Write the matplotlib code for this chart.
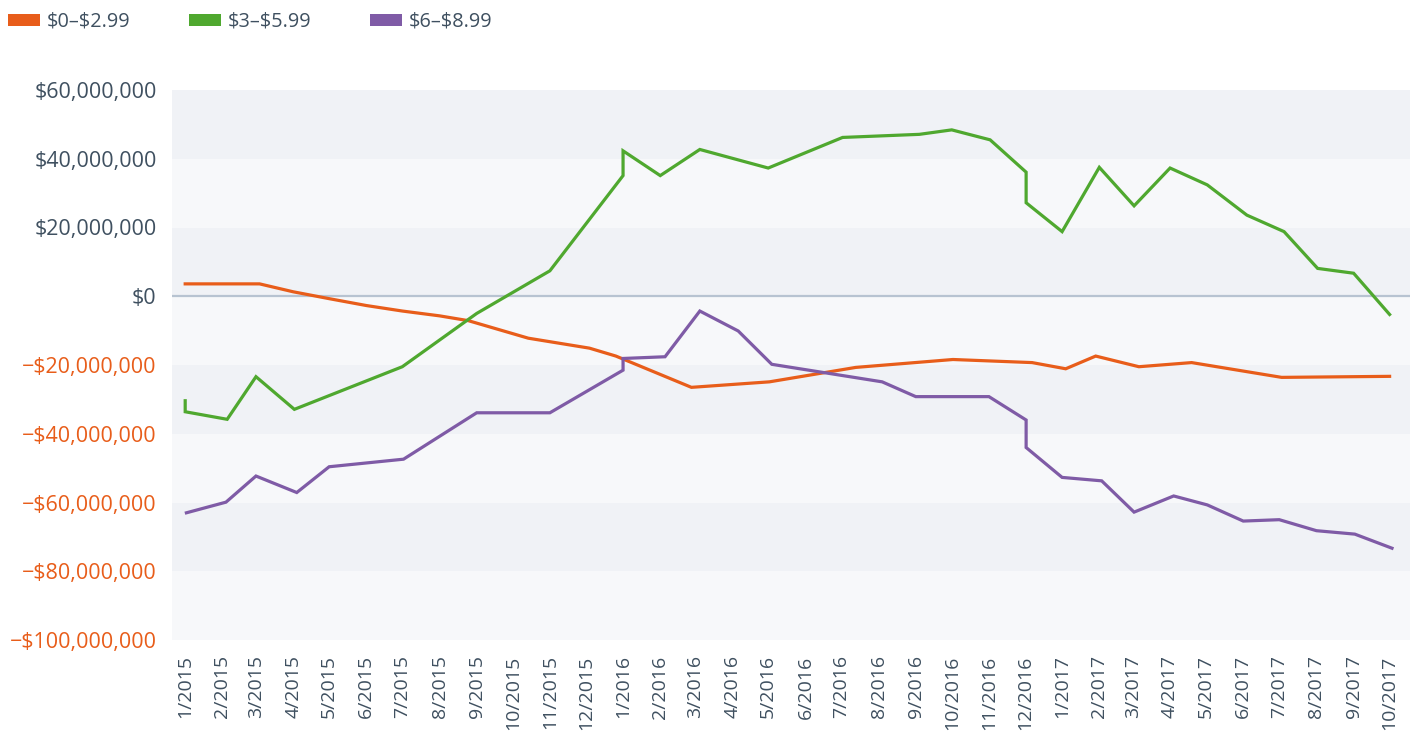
import pandas as pd
import numpy as np
import matplotlib.pyplot as plt
from matplotlib.patches import Patch

plt.rcParams['font.family'] = ['Open Sans', 'DejaVu Sans']

# series names and colours
series_names = ['\\$0–\\$2.99', '\\$3–\\$5.99', '\\$6–\\$8.99']
series_colors = ['#e85d1a', '#4fa82f', '#7f5ba6']

# values in millions of dollars
low_dates = ['2015-01-01', '2015-03-04', '2015-04-01', '2015-05-01', '2015-06-01',
             '2015-07-01', '2015-08-01', '2015-08-25', '2015-10-14', '2015-12-04',
             '2015-12-26', '2016-02-27', '2016-05-02', '2016-07-13', '2016-10-02',
             '2016-12-07', '2017-01-04', '2017-01-29', '2017-03-06', '2017-04-19',
             '2017-07-03', '2017-10-01']
low_values = [3.6, 3.6, 1.3, -0.7, -2.7,
              -4.3, -5.7, -7.1, -12.2, -15.1,
              -17.4, -26.5, -24.9, -20.7, -18.4,
              -19.3, -21.1, -17.4, -20.5, -19.3,
              -23.6, -23.3]

mid_dates = ['2015-01-01', '2015-01-01', '2015-02-05', '2015-03-01', '2015-04-02',
             '2015-07-01', '2015-09-01', '2015-11-01', '2016-01-01', '2016-01-01',
             '2016-02-01', '2016-03-05', '2016-05-01', '2016-07-02', '2016-09-04',
             '2016-10-01', '2016-11-02', '2016-12-02', '2016-12-02', '2017-01-01',
             '2017-02-01', '2017-03-02', '2017-04-01', '2017-05-02', '2017-06-04',
             '2017-07-05', '2017-08-02', '2017-09-01', '2017-10-01']
mid_values = [-30.4, -33.6, -35.8, -23.4, -32.9,
              -20.5, -5.0, 7.4, 35.1, 42.3,
              35.1, 42.7, 37.3, 46.2, 47.1,
              48.4, 45.5, 36.1, 27.2, 18.8,
              37.5, 26.3, 37.3, 32.4, 23.6,
              18.8, 8.1, 6.7, -5.3]

high_dates = ['2015-01-02', '2015-02-04', '2015-03-01', '2015-04-04', '2015-05-01',
              '2015-07-02', '2015-09-01', '2015-11-01', '2016-01-01', '2016-01-01',
              '2016-02-05', '2016-03-05', '2016-04-06', '2016-05-04', '2016-08-04',
              '2016-09-01', '2016-11-01', '2016-12-02', '2016-12-02', '2017-01-01',
              '2017-02-03', '2017-03-02', '2017-04-04', '2017-05-02', '2017-06-01',
              '2017-07-01', '2017-08-01', '2017-09-02', '2017-10-03']
high_values = [-63.0, -59.9, -52.3, -57.1, -49.6,
               -47.4, -33.9, -33.9, -21.5, -18.1,
               -17.6, -4.3, -10.1, -19.8, -24.9,
               -29.2, -29.2, -36.0, -44.0, -52.7,
               -53.7, -62.8, -58.1, -60.7, -65.4,
               -65.0, -68.2, -69.2, -73.3]

month_ticks = pd.date_range('2015-01-01', '2017-10-01', freq='MS')
month_labels = [f'{d.month}/{d.year}' for d in month_ticks]
y_ticks = np.arange(-100, 61, 20) * 1e6

text_color = '#3f5060'

fig = plt.figure(figsize=[14.22, 7.36], dpi=100)
ax = fig.add_axes([172/1422, 1 - 640/736, (1410-172)/1422, (640-90)/736])

# alternating background bands
for i, (lo, hi) in enumerate(zip(y_ticks[:-1], y_ticks[1:])):
    band = '#f7f8fa' if i % 2 == 0 else '#f0f2f6'
    ax.axhspan(lo, hi, color=band, lw=0, zorder=0)
ax.axhline(0, color='#b7c3d1', lw=1.6, zorder=1)

all_dates = [low_dates, mid_dates, high_dates]
all_values = [low_values, mid_values, high_values]
for name, dates, vals, c in zip(series_names, all_dates, all_values, series_colors):
    ax.plot(pd.to_datetime(dates), np.array(vals) * 1e6, color=c, lw=2.3,
            solid_joinstyle='miter', zorder=3, label=name)

ax.set_xlim(pd.Timestamp('2014-12-21'), pd.Timestamp('2017-10-18'))
ax.set_ylim(-100e6, 60e6)

ax.set_xticks(month_ticks)
ax.set_xticklabels(month_labels, rotation=90, fontsize=14, color=text_color)

def money(v):
    s = f'\\${abs(v):,.0f}'
    return '\u2212' + s if v < 0 else s

ax.set_yticks(y_ticks)
ax.set_yticklabels([money(v) for v in y_ticks], fontsize=15.5)
for lbl, v in zip(ax.get_yticklabels(), y_ticks):
    lbl.set_color('#e85d1a' if v < 0 else text_color)

ax.tick_params(length=0)
ax.tick_params(axis='y', pad=11)
ax.tick_params(axis='x', pad=11)
for s in ax.spines.values():
    s.set_visible(False)

handles = [Patch(facecolor=c, edgecolor='none') for c in series_colors]
fig.legend(handles, series_names, loc='upper left', bbox_to_anchor=(-0.003, 1.0),
           ncol=3, frameon=False, fontsize=14.3, labelcolor=text_color,
           handlelength=1.65, handleheight=0.5, handletextpad=0.3,
           columnspacing=2.95, borderaxespad=0.2)

fig.savefig('out.png', dpi=100, facecolor='white')
